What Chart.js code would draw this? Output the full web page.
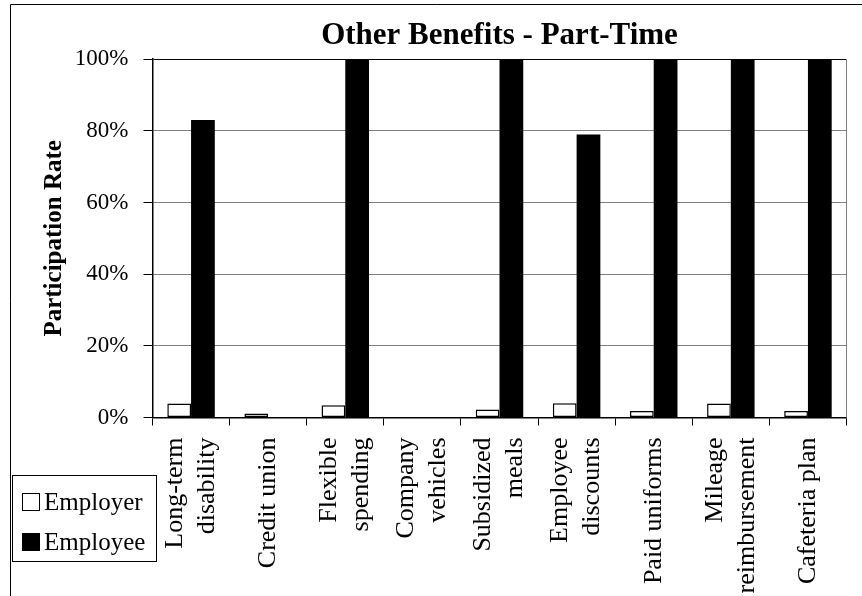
<!DOCTYPE html>
<html>
<head>
<meta charset="utf-8">
<title>Other Benefits - Part-Time</title>
<script src="https://cdn.jsdelivr.net/npm/chart.js@4.4.1/dist/chart.umd.min.js"></script>
<style>
    body { margin: 0; background: #fff; }
    #benefitsChart { display: block; }
</style>
</head>
<body>
<canvas id="benefitsChart" width="862" height="596"></canvas>
<script>
// benefit categories, split into the lines they wrap to under the axis
const categories = [
    ['Long-term', 'disability'],
    ['Credit union'],
    ['Flexible', 'spending'],
    ['Company', 'vehicles'],
    ['Subsidized', 'meals'],
    ['Employee', 'discounts'],
    ['Paid uniforms'],
    ['Mileage', 'reimbursement'],
    ['Cafeteria plan']
];
const employerRates = [3.9, 1.1, 3.4, 0, 2.2, 4.0, 1.8, 3.9, 1.8]; // %
const employeeRates = [83, 0, 100, 0, 100, 79, 100, 100, 100];   // %
const rateTicks = [0, 20, 40, 60, 80, 100];

const SERIF = "'Liberation Serif', 'Times New Roman', serif";
Chart.defaults.font.family = SERIF;
Chart.defaults.color = '#000';

// white background + the thin frame round the chart
const chartFrame = {
    id: 'chartFrame',
    beforeDraw(chart) {
        const ctx = chart.ctx;
        ctx.save();
        ctx.fillStyle = '#fff';
        ctx.fillRect(0, 0, chart.width, chart.height);
        ctx.strokeStyle = '#000';
        ctx.lineWidth = 1;
        ctx.beginPath();
        ctx.moveTo(10.5, chart.height);
        ctx.lineTo(10.5, 4.5);
        ctx.lineTo(chart.width, 4.5);
        ctx.stroke();
        ctx.restore();
    },
    // right edge of the plot area
    beforeDatasetsDraw(chart) {
        const { ctx, chartArea } = chart;
        ctx.save();
        ctx.strokeStyle = '#808080';
        ctx.lineWidth = 1;
        ctx.beginPath();
        ctx.moveTo(chartArea.right, chartArea.top);
        ctx.lineTo(chartArea.right, chartArea.bottom);
        ctx.stroke();
        ctx.restore();
    }
};

// rotated category labels, each wrapped block centred on its category
const categoryLabels = {
    id: 'categoryLabels',
    afterDraw(chart) {
        const ctx = chart.ctx;
        const xScale = chart.scales.x;
        const lineHeight = 32;
        ctx.save();
        ctx.font = '26px ' + SERIF;
        ctx.fillStyle = '#000';
        ctx.textAlign = 'right';
        ctx.textBaseline = 'middle';
        categories.forEach((lines, i) => {
            const x = xScale.getPixelForValue(i);
            ctx.save();
            ctx.translate(x, xScale.top + 20);
            ctx.rotate(-Math.PI / 2);
            lines.forEach((line, j) => {
                ctx.fillText(line, 0, (j - (lines.length - 1) / 2) * lineHeight);
            });
            ctx.restore();
        });
        ctx.restore();
    }
};

// boxed legend in the lower left corner
const boxLegend = {
    id: 'boxLegend',
    afterDraw(chart) {
        const ctx = chart.ctx;
        const box = { x: 12.5, y: 475.5, w: 144, h: 86 };
        ctx.save();
        ctx.strokeStyle = '#000';
        ctx.lineWidth = 1;
        ctx.strokeRect(box.x, box.y, box.w, box.h);
        ctx.font = '25px ' + SERIF;
        ctx.textBaseline = 'middle';
        ctx.textAlign = 'left';
        chart.data.datasets.forEach((ds, i) => {
            const cy = 502 + i * 40;
            ctx.fillStyle = ds.backgroundColor;
            ctx.fillRect(22, cy - 9, 18, 18);
            ctx.strokeStyle = '#000';
            ctx.lineWidth = 1;
            ctx.strokeRect(22.5, cy - 8.5, 17, 17);
            ctx.fillStyle = '#000';
            ctx.fillText(ds.label, 44, cy + 1);
        });
        ctx.restore();
    }
};

const ctx = document.getElementById('benefitsChart').getContext('2d');
const benefitsChart = new Chart(ctx, {
    type: 'bar',
    data: {
        labels: categories,
        datasets: [
            {
                label: 'Employer',
                data: employerRates,
                backgroundColor: '#ffffff',
                borderColor: '#000000',
                borderWidth: 1.5,
                borderSkipped: false
            },
            {
                label: 'Employee',
                data: employeeRates,
                backgroundColor: '#000000',
                borderWidth: 0
            }
        ]
    },
    options: {
        responsive: false,
        animation: false,
        layout: {
            padding: { left: 0, right: 15.5, top: 0, bottom: 0 }
        },
        datasets: {
            bar: { categoryPercentage: 0.616, barPercentage: 1.0 }
        },
        scales: {
            x: {
                grid: {
                    display: true,
                    drawOnChartArea: false,
                    tickLength: 8,
                    tickColor: '#000'
                },
                border: { color: '#000', width: 1.5 },
                ticks: { display: false },
                afterFit(scale) {
                    scale.height = 178.5;
                }
            },
            y: {
                min: 0,
                max: 100,
                afterBuildTicks(scale) {
                    scale.ticks = rateTicks.map(v => ({ value: v }));
                },
                grid: {
                    color: (c) => c.tick && c.tick.value === 100 ? '#000' : '#808080',
                    lineWidth: 1,
                    tickLength: 9,
                    tickColor: '#000'
                },
                border: { color: '#000', width: 1.5 },
                ticks: {
                    padding: 15,
                    font: { size: 23 },
                    callback: (v) => v + '%'
                },
                title: {
                    display: true,
                    text: 'Participation Rate',
                    font: { size: 25, weight: 'bold' },
                    padding: { top: 40, bottom: 0 }
                },
                afterFit(scale) {
                    scale.width = 152.5;
                }
            }
        },
        plugins: {
            legend: { display: false },
            tooltip: { enabled: false },
            title: {
                display: true,
                fullSize: false,
                text: 'Other Benefits - Part-Time',
                font: { size: 31, weight: 'bold' },
                color: '#000',
                padding: { top: 17, bottom: 5 }
            }
        }
    },
    plugins: [chartFrame, categoryLabels, boxLegend]
});
</script>
</body>
</html>
